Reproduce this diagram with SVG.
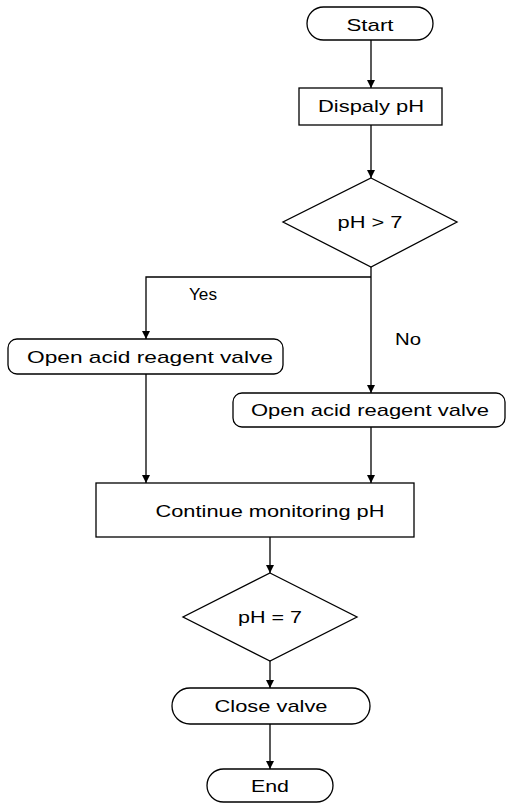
<svg xmlns="http://www.w3.org/2000/svg" width="507" height="803" viewBox="0 0 507 803">
<style>
.s{fill:#fff;stroke:#000;stroke-width:1.3}
.c{fill:none;stroke:#000;stroke-width:1.3}
text{font-family:"Liberation Sans",Arial,sans-serif;font-size:17px;fill:#000;text-anchor:middle}
</style>
<defs>
<marker id="a" viewBox="0 0 10 10" refX="10" refY="5" markerWidth="8" markerHeight="8" markerUnits="userSpaceOnUse" orient="auto">
<path d="M0,0 L10,5 L0,10 Z" fill="#000"/>
</marker>
</defs>
<rect width="507" height="803" fill="#fff"/>
<g id="connectors">
<path class="c" d="M371,40 V88" marker-end="url(#a)"/>
<path class="c" d="M371,125 V178" marker-end="url(#a)"/>
<path class="c" d="M371,267 V393" marker-end="url(#a)"/>
<path class="c" d="M371,277 H146 V339" marker-end="url(#a)"/>
<path class="c" d="M146,374 V483" marker-end="url(#a)"/>
<path class="c" d="M371,427 V483" marker-end="url(#a)"/>
<path class="c" d="M270,537 V573" marker-end="url(#a)"/>
<path class="c" d="M270,654 V688" marker-end="url(#a)"/>
<path class="c" d="M270,724 V769" marker-end="url(#a)"/>
<text x="203" y="300" textLength="28" lengthAdjust="spacingAndGlyphs">Yes</text>
<text x="408" y="345" textLength="26" lengthAdjust="spacingAndGlyphs">No</text>
</g>
<g id="start">
<rect class="s" x="307" y="7" width="126" height="33" rx="16.5"/>
<text x="370" y="31" textLength="47" lengthAdjust="spacingAndGlyphs">Start</text>
</g>
<g id="display">
<rect class="s" x="299" y="88" width="143" height="37"/>
<text x="371" y="112" textLength="106" lengthAdjust="spacingAndGlyphs">Dispaly pH</text>
</g>
<g id="decision1">
<polygon class="s" points="371,178 457,222 371,267 283,222"/>
<text x="370" y="228" textLength="65" lengthAdjust="spacingAndGlyphs">pH &gt; 7</text>
</g>
<g id="left-valve">
<rect class="s" x="8" y="339" width="275" height="35" rx="9"/>
<text x="150" y="363" textLength="246" lengthAdjust="spacingAndGlyphs">Open acid reagent valve</text>
</g>
<g id="right-valve">
<rect class="s" x="233" y="393" width="272" height="34" rx="9"/>
<text x="370" y="416" textLength="238" lengthAdjust="spacingAndGlyphs">Open acid reagent valve</text>
</g>
<g id="monitor">
<rect class="s" x="96" y="483" width="318" height="54"/>
<text x="270" y="517" textLength="229" lengthAdjust="spacingAndGlyphs">Continue monitoring pH</text>
</g>
<g id="decision2">
<polygon class="s" points="270,573 357,617 270,661 183,617"/>
<text x="270" y="623" textLength="64" lengthAdjust="spacingAndGlyphs">pH = 7</text>
</g>
<g id="close">
<rect class="s" x="172" y="688" width="198" height="36" rx="18"/>
<text x="271" y="712" textLength="113" lengthAdjust="spacingAndGlyphs">Close valve</text>
</g>
<g id="end">
<rect class="s" x="207" y="769" width="126" height="33" rx="16.5"/>
<text x="270" y="792" textLength="38" lengthAdjust="spacingAndGlyphs">End</text>
</g>
</svg>
